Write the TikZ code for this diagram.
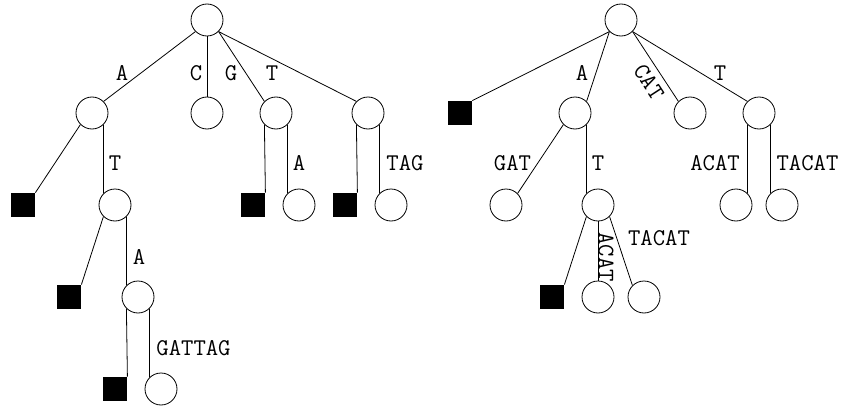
\documentclass[tikz,border=0pt]{standalone}
\begin{document}
\begin{tikzpicture}[x=0.5pt,y=-0.5pt,
  nd/.style={draw,circle,minimum size=16pt,inner sep=0pt},
  lf/.style={fill=black,minimum size=12pt,inner sep=0pt},
  lb/.style={inner sep=0pt,font=\fontsize{12}{14}\selectfont\ttfamily}]
   \useasboundingbox (0,0) rectangle (842,407);

   % 左の木
   \node[nd] (r) at (207,20) {};
   \node[nd] (a) at (92,113) {};
   \node[nd] (c) at (207,113) {};
   \node[nd] (g) at (276,113) {};
   \node[nd] (t) at (368,113) {};
   \node[lf] (a0) at (23,205) {};
   \node[nd] (at) at (115,205) {};
   \node[lf] (g0) at (253,205) {};
   \node[nd] (ga) at (299,205) {};
   \node[lf] (t0) at (345,205) {};
   \node[nd] (ttag) at (391,205) {};
   \node[lf] (at0) at (69,297) {};
   \node[nd] (ata) at (138,297) {};
   \node[lf] (ata0) at (115,389) {};
   \node[nd] (atag) at (161,389) {};

   \draw (r.south west) -- (a.north east);
   \draw (r.south) -- (c.north);
   \draw (r.south east) -- (g.north west);
   \draw (r.south east) -- (t.north west);
   \draw (a.south west) -- (a0.north east);
   \draw (a.south east) -- (at.north west);
   \draw (g.south west) -- (g0.north east);
   \draw (g.south east) -- (ga.north west);
   \draw (t.south west) -- (t0.north east);
   \draw (t.south east) -- (ttag.north west);
   \draw (at.south west) -- (at0.north east);
   \draw (at.south east) -- (ata.north west);
   \draw (ata.south west) -- (ata0.north east);
   \draw (ata.south east) -- (atag.north west);

   \node[lb] (la) at (122,73) {A};
   \node[lb] (lc) at (196,73) {C};
   \node[lb] (lg) at (231,73) {G};
   \node[lb] (lt) at (272,73) {T};
   \node[lb] (lat) at (115,163) {T};
   \node[lb] (lga) at (299,163) {A};
   \node[lb] (ltag) at (405,163) {TAG};
   \node[lb] (lata) at (139,257) {A};
   \node[lb] (latag) at (193.5,348) {GATTAG};

   % 右の木
   \node[nd] (R) at (621,20) {};
   \node[lf] (R0) at (460,113) {};
   \node[nd] (Ra) at (575,113) {};
   \node[nd] (Rcat) at (690,113) {};
   \node[nd] (Rt) at (759,113) {};
   \node[nd] (Rgat) at (506,205) {};
   \node[nd] (Rat) at (598,205) {};
   \node[nd] (Racat) at (736,205) {};
   \node[nd] (Rtacat) at (782,205) {};
   \node[lf] (Rat0) at (552,297) {};
   \node[nd] (Ratacat) at (598,297) {};
   \node[nd] (Rattacat) at (644,297) {};

   \draw (R.south west) -- (R0.north east);
   \draw (R.south west) -- (Ra.north east);
   \draw (R.south east) -- (Rcat.north west);
   \draw (R.south east) -- (Rt.north west);
   \draw (Ra.south west) -- (Rgat.north east);
   \draw (Ra.south east) -- (Rat.north west);
   \draw (Rt.south west) -- (Racat.north east);
   \draw (Rt.south east) -- (Rtacat.north west);
   \draw (Rat.south west) -- (Rat0.north east);
   \draw (Rat.south) -- (Ratacat.north);
   \draw (Rat.south east) -- (Rattacat.north west);

   \node[lb] (La) at (582,73) {A};
   \node[lb,rotate=-57] (Lcat) at (649,82) {CAT};
   \node[lb] (Lt) at (720,73) {T};
   \node[lb] (Lgat) at (512.5,163) {GAT};
   \node[lb] (Lat) at (598,163) {T};
   \node[lb] (Lacat) at (715,163) {ACAT};
   \node[lb] (Ltacat) at (807.5,163) {TACAT};
   \node[lb,rotate=-90] (Latacat) at (606,257) {ACAT};
   \node[lb] (Lattacat) at (659,238) {TACAT};

\end{tikzpicture}
\end{document}
